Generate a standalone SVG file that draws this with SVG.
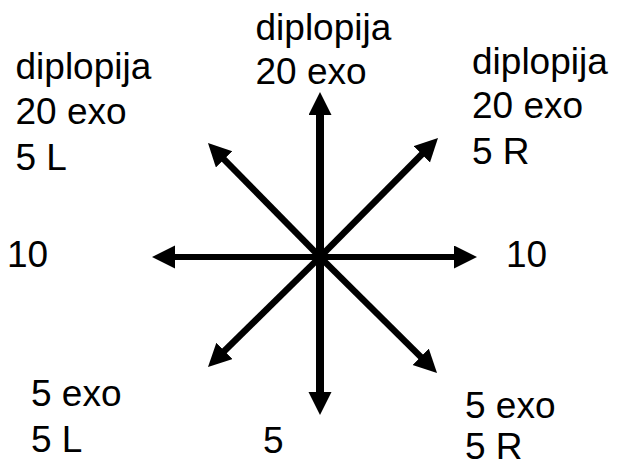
<svg xmlns="http://www.w3.org/2000/svg" width="617" height="467" viewBox="0 0 617 467">
<style>
text{font-family:"Liberation Sans",Arial,sans-serif;font-size:37px;fill:#000}
.ax{stroke:#000;fill:none;stroke-linecap:butt}
.v{stroke-width:8}
.h{stroke-width:6}
.d{stroke-width:6.5}
</style>
<defs>
<marker id="ah" markerUnits="userSpaceOnUse" markerWidth="24" markerHeight="24" refX="1" refY="11.5" orient="auto" viewBox="0 0 24 24">
<path d="M0,0 L23,11.5 L0,23 z" fill="#000"/>
</marker>
</defs>
<rect width="617" height="467" fill="#fff"/>
<g id="connectors">
<line class="ax v" x1="320" y1="257" x2="320" y2="114" marker-end="url(#ah)"/>
<line class="ax v" x1="320" y1="257" x2="320" y2="393" marker-end="url(#ah)"/>
<line class="ax h" x1="320" y1="257" x2="174" y2="257" marker-end="url(#ah)"/>
<line class="ax h" x1="320" y1="257" x2="455" y2="257" marker-end="url(#ah)"/>
<line class="ax d" x1="320" y1="257" x2="223.4" y2="158.7" marker-end="url(#ah)"/>
<line class="ax d" x1="320" y1="257" x2="422.5" y2="153.6" marker-end="url(#ah)"/>
<line class="ax d" x1="320" y1="257" x2="223.7" y2="351.6" marker-end="url(#ah)"/>
<line class="ax d" x1="320" y1="257" x2="421.4" y2="357.5" marker-end="url(#ah)"/>
</g>
<g id="label-top"><text x="255.5" y="40">diplopija</text><text x="255.5" y="84">20 exo</text></g>
<g id="label-upper-left"><text x="15.5" y="79">diplopija</text><text x="15.5" y="124">20 exo</text><text x="15.5" y="170">5 L</text></g>
<g id="label-upper-right"><text x="472" y="74">diplopija</text><text x="472" y="118">20 exo</text><text x="472" y="164">5 R</text></g>
<g id="label-left"><text x="7" y="267">10</text></g>
<g id="label-right"><text x="506" y="267">10</text></g>
<g id="label-lower-left"><text x="31" y="406">5 exo</text><text x="31" y="452">5 L</text></g>
<g id="label-bottom"><text x="263" y="453">5</text></g>
<g id="label-lower-right"><text x="465" y="418">5 exo</text><text x="465" y="459">5 R</text></g>
</svg>
